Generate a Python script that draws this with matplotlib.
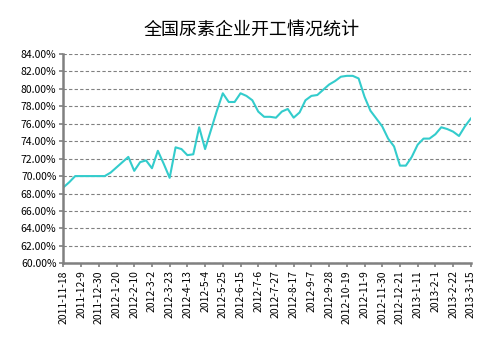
import matplotlib.pyplot as plt
import numpy as np

plt.rcParams['font.family'] = ['Noto Sans CJK SC', 'DejaVu Sans']

# 每周开工率 (%), 2011-11-18 起
rate = [68.7, 69.3, 70.0, 70.0, 70.0, 70.0, 70.0, 70.0, 70.4, 71.0,
        71.6, 72.2, 70.6, 71.6, 71.8, 70.9, 72.9, 71.4, 69.8, 73.3,
        73.1, 72.4, 72.5, 75.6, 73.1, 75.3, 77.5, 79.5, 78.5, 78.5,
        79.5, 79.2, 78.7, 77.4, 76.8, 76.8, 76.7, 77.4, 77.7, 76.7,
        77.3, 78.7, 79.2, 79.3, 79.9, 80.5, 80.9, 81.4, 81.5, 81.5,
        81.2, 79.1, 77.5, 76.6, 75.7, 74.3, 73.4, 71.2, 71.2, 72.2,
        73.6, 74.3, 74.3, 74.8, 75.6, 75.4, 75.1, 74.6, 75.7, 76.6]

tick_label = ['2011-11-18', '2011-12-9', '2011-12-30', '2012-1-20', '2012-2-10',
              '2012-3-2', '2012-3-23', '2012-4-13', '2012-5-4', '2012-5-25',
              '2012-6-15', '2012-7-6', '2012-7-27', '2012-8-17', '2012-9-7',
              '2012-9-28', '2012-10-19', '2012-11-9', '2012-11-30', '2012-12-21',
              '2013-1-11', '2013-2-1', '2013-2-22', '2013-3-15']

title = '全国尿素企业开工情况统计'

fig = plt.figure(figsize=(5.03, 3.51), dpi=100)
ax = fig.add_axes([0.126, 0.250, 0.810, 0.596])

x = np.arange(len(rate))
ax.plot(x, rate, color='#33CCCC', linewidth=1.5)

ax.set_xlim(0, len(rate) - 1)
ax.set_ylim(60, 84)
ax.set_yticks(np.arange(60, 85, 2))
ax.set_yticklabels(['%.2f%%' % v for v in np.arange(60, 85, 2)], fontsize=7.5)
ax.set_xticks(x[::3])
ax.set_xticklabels(tick_label, rotation=90, fontsize=7.5)

# 网格与坐标轴样式
ax.grid(axis='y', color='#808080', linestyle=(0, (3, 2)), linewidth=0.8)
ax.set_axisbelow(True)
for side in ['top', 'right']:
    ax.spines[side].set_visible(False)
for side in ['left', 'bottom']:
    ax.spines[side].set_color('#808080')
    ax.spines[side].set_linewidth(1.8)
ax.tick_params(axis='both', colors='#808080', labelcolor='black', length=3, width=1.2, pad=2)

fig.text(0.5, 0.915, title, ha='center', va='center', fontsize=13)

plt.savefig('out.png', dpi=100)
